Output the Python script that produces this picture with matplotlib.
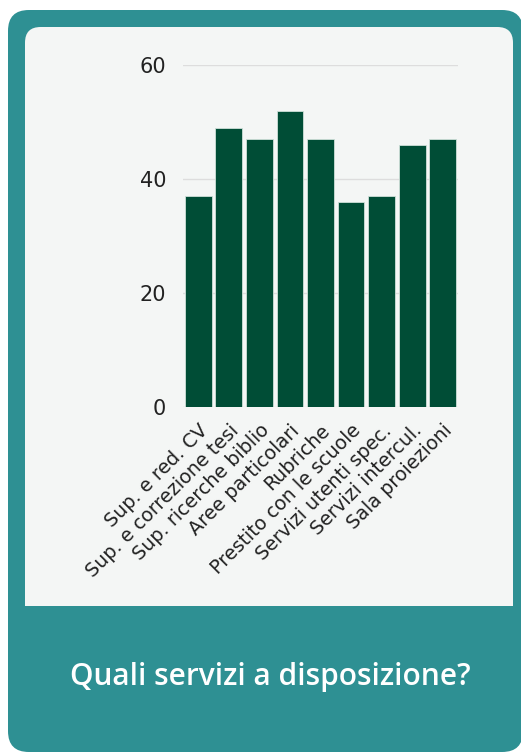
import matplotlib
matplotlib.use("Agg")
import matplotlib.pyplot as plt
import matplotlib.transforms as mtransforms
from matplotlib.patches import FancyBboxPatch, Rectangle

categories = [
    "Sup. e red. CV",
    "Sup. e correzione tesi",
    "Sup. ricerche biblio",
    "Aree particolari",
    "Rubriche",
    "Prestito con le scuole",
    "Servizi utenti spec.",
    "Servizi intercul.",
    "Sala proiezioni",
]
values = [37, 49, 47, 52, 47, 36, 37, 46, 47]
yticks = [0, 20, 40, 60]
title = "Quali servizi a disposizione?"

W, H = 521, 756
fig = plt.figure(figsize=(W / 100, H / 100), dpi=100)
fig.patch.set_facecolor("white")

def fx(px):
    return px / W

def fy(py):
    return 1 - py / H

teal = "#2E9093"
panel = "#F4F6F5"
bar_color = "#004D36"

# outer card
card = FancyBboxPatch((fx(8), fy(752)), fx(515), (752 - 10) / H,
                      boxstyle="round,pad=0,rounding_size=0.04",
                      transform=fig.transFigure, facecolor=teal,
                      edgecolor="none", mutation_aspect=W / H, zorder=0)
fig.patches.append(card)

# inner light panel: rounded top, square bottom
inner = FancyBboxPatch((fx(25), fy(606)), fx(488), (606 - 27) / H,
                       boxstyle="round,pad=0,rounding_size=0.03",
                       transform=fig.transFigure, facecolor=panel,
                       edgecolor="none", mutation_aspect=W / H, zorder=0)
fig.patches.append(inner)
fig.patches.append(Rectangle((fx(25), fy(606)), fx(488), 40 / H,
                             transform=fig.transFigure, facecolor=panel,
                             edgecolor="none", zorder=0))

ax = fig.add_axes([fx(183), fy(407), fx(458 - 183), (407 - 65) / H])
ax.set_zorder(5)
ax.set_facecolor(panel)
x = range(len(categories))
ax.bar(x, values, width=0.88, color=bar_color, edgecolor="#cfe0d8",
       linewidth=0.6, zorder=3)
ax.set_xlim(-0.5, len(categories) - 0.5)
ax.set_ylim(0, 60)
ax.set_yticks(yticks)
ax.set_yticklabels([str(v) for v in yticks], fontsize=15,
                   family="DejaVu Sans", color="#222222")
ax.set_xticks(list(x))
ax.set_xticklabels(categories, rotation=45, ha="right",
                   rotation_mode="anchor", fontsize=13.8,
                   family="DejaVu Sans", color="#222222")
shift = mtransforms.ScaledTranslation(9 / 100, 0, fig.dpi_scale_trans)
for lbl in ax.get_xticklabels():
    lbl.set_transform(lbl.get_transform() + shift)
ax.tick_params(axis="both", length=0)
ax.tick_params(axis="y", pad=12)
ax.tick_params(axis="x", pad=10)
ax.grid(axis="y", color="#dddddd", linewidth=1, zorder=0)
for s in ax.spines.values():
    s.set_visible(False)

fig.text(fx(270), fy(677), title, ha="center", va="center",
         fontsize=21.5, color="white", family="Open Sans", fontweight="semibold")

fig.savefig("out.png", dpi=100, facecolor="white")
